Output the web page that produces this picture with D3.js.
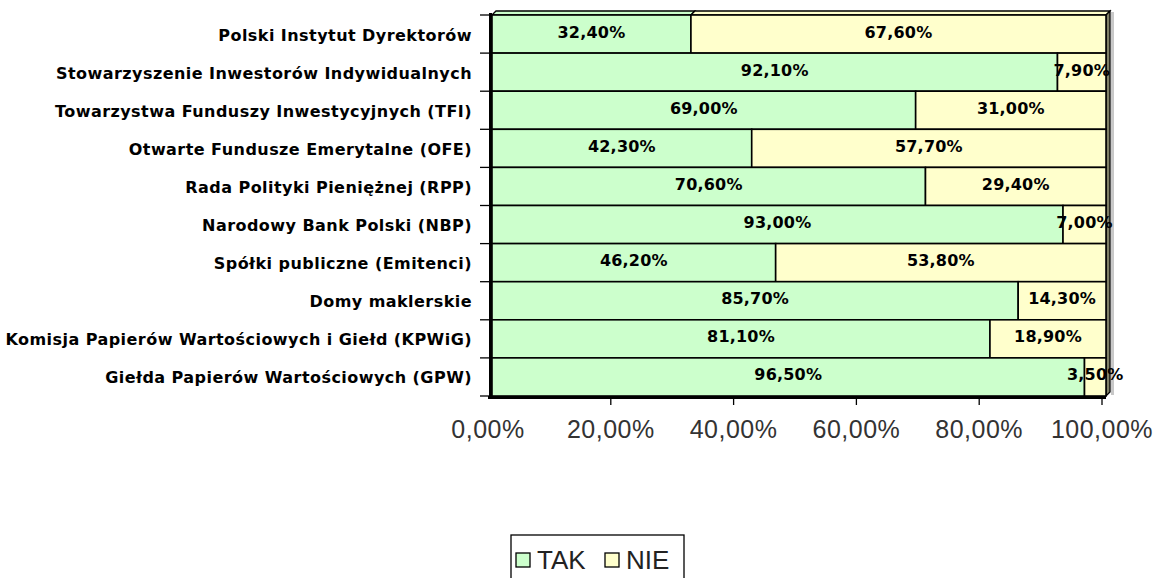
<!DOCTYPE html>
<html><head><meta charset="utf-8">
<script src="https://cdn.jsdelivr.net/npm/d3@7/dist/d3.min.js"></script>
<style>body{margin:0;background:#fff}svg{display:block}</style>
</head><body>
<svg id="c" width="1159" height="578"></svg>
<script>
const categories = [
  "Polski Instytut Dyrektorów ",
  "Stowarzyszenie Inwestorów Indywidualnych",
  "Towarzystwa Funduszy Inwestycyjnych (TFI)",
  "Otwarte Fundusze Emerytalne (OFE)",
  "Rada Polityki Pieniężnej (RPP)",
  "Narodowy Bank Polski (NBP)",
  "Spółki publiczne (Emitenci)",
  "Domy maklerskie ",
  "Komisja Papierów Wartościowych i Giełd (KPWiG)",
  "Giełda Papierów Wartościowych (GPW)"
];
const seriesNames = ["TAK", "NIE"];
const takValues = [32.4, 92.1, 69.0, 42.3, 70.6, 93.0, 46.2, 85.7, 81.1, 96.5];
const nieValues = [67.6, 7.9, 31.0, 57.7, 29.4, 7.0, 53.8, 14.3, 18.9, 3.5];
const xTicks = [0, 20, 40, 60, 80, 100];
const colors = ["#CCFFCC", "#FFFFCC"];

const svg = d3.select("#c");
const pL = 492, pR = 1106, pT = 15, pB = 396, depth = 4;
const x = d3.scaleLinear().domain([0, 100]).range([pL, pR]);
const xAxisScale = d3.scaleLinear().domain([0, 100]).range([pL - depth, pR - depth]);
const y = d3.scaleBand().domain(categories).range([pT, pB]).padding(0);
const fmt = v => d3.format(".2f")(v).replace(".", ",") + "%";

const rows = categories.map((c, i) => ({c, segs: [
  {s: 0, x0: 0, x1: takValues[i], v: takValues[i]},
  {s: 1, x0: takValues[i], x1: takValues[i] + nieValues[i], v: nieValues[i]}
]}));

// top face (3D)
rows[0].segs.forEach(d => {
  const x0 = x(d.x0), x1 = x(d.x1);
  svg.append("polygon")
    .attr("points", `${x0},${pT} ${x0+depth},${pT-depth} ${x1+depth},${pT-depth} ${x1},${pT}`)
    .attr("fill", colors[d.s]).attr("stroke", "#000").attr("stroke-width", 1.3);
});
// right side face
svg.append("rect").attr("x", pR + depth + 1).attr("y", pT - depth + 1)
  .attr("width", 3).attr("height", pB - pT + 2).attr("fill", "#c8c8c8");
svg.append("polygon")
  .attr("points", `${pR},${pT} ${pR+depth},${pT-depth} ${pR+depth},${pB-depth} ${pR},${pB}`)
  .attr("fill", "#7f7f66").attr("stroke", "#000").attr("stroke-width", 1.3);

// bars
const g = svg.append("g");
rows.forEach(r => {
  r.segs.forEach(d => {
    g.append("rect")
      .attr("x", x(d.x0)).attr("y", y(r.c))
      .attr("width", x(d.x1) - x(d.x0)).attr("height", y.bandwidth())
      .attr("fill", colors[d.s]).attr("stroke", "#000").attr("stroke-width", 1.6);
  });
});
// value labels
rows.forEach(r => {
  r.segs.forEach(d => {
    g.append("text")
      .attr("x", (x(d.x0) + x(d.x1)) / 2).attr("y", y(r.c) + y.bandwidth() / 2 - 2)
      .attr("text-anchor", "middle").attr("dominant-baseline", "central")
      .attr("font-family", "DejaVu Sans").attr("font-weight", "bold").attr("font-size", 16)
      .attr("letter-spacing", 0.2)
      .attr("fill", "#000").text(fmt(d.v));
  });
});

// axes lines
svg.append("line").attr("x1", pL - 1.5).attr("x2", pL - 1.5).attr("y1", pT - 2).attr("y2", pB + 2)
  .attr("stroke", "#000").attr("stroke-width", 3);
svg.append("line").attr("x1", pL - 4).attr("x2", pR).attr("y1", pB + 1.5).attr("y2", pB + 1.5)
  .attr("stroke", "#000").attr("stroke-width", 3);

// y ticks
const yb = categories.map(c => y(c)).concat([pB]);
yb.forEach(v => {
  svg.append("line").attr("x1", 480).attr("x2", pL - 2).attr("y1", v).attr("y2", v)
    .attr("stroke", "#000").attr("stroke-width", 1.3);
});
// category labels
categories.forEach(c => {
  svg.append("text").attr("x", 472).attr("y", y(c) + y.bandwidth() / 2 + 1)
    .attr("text-anchor", "end").attr("dominant-baseline", "central")
    .attr("font-family", "DejaVu Sans").attr("font-weight", "bold").attr("font-size", 16)
    .attr("letter-spacing", 0.45)
    .attr("fill", "#000").text(c.trim());
});

// x ticks and labels
xTicks.forEach(t => {
  if (t > 0) svg.append("line").attr("x1", xAxisScale(t)).attr("x2", xAxisScale(t))
    .attr("y1", pB + 2).attr("y2", pB + 9).attr("stroke", "#000").attr("stroke-width", 1.3);
  svg.append("text").attr("x", xAxisScale(t)).attr("y", 438)
    .attr("text-anchor", "middle").attr("font-family", "Liberation Sans").attr("font-size", 25)
    .attr("letter-spacing", 0.5)
    .attr("fill", "#333").text(fmt(t));
});

// legend
const lg = svg.append("g");
lg.append("rect").attr("x", 511).attr("y", 535).attr("width", 173).attr("height", 60)
  .attr("fill", "#fff").attr("stroke", "#000").attr("stroke-width", 1.3);
const legX = [516, 605];
seriesNames.forEach((n, i) => {
  lg.append("rect").attr("x", legX[i]).attr("y", 553).attr("width", 14).attr("height", 14)
    .attr("fill", colors[i]).attr("stroke", "#000").attr("stroke-width", 1.3);
  lg.append("text").attr("x", legX[i] + 21).attr("y", 569).attr("font-family", "Liberation Sans")
    .attr("font-size", 26).attr("fill", "#222").text(n);
});
</script>
</body></html>
